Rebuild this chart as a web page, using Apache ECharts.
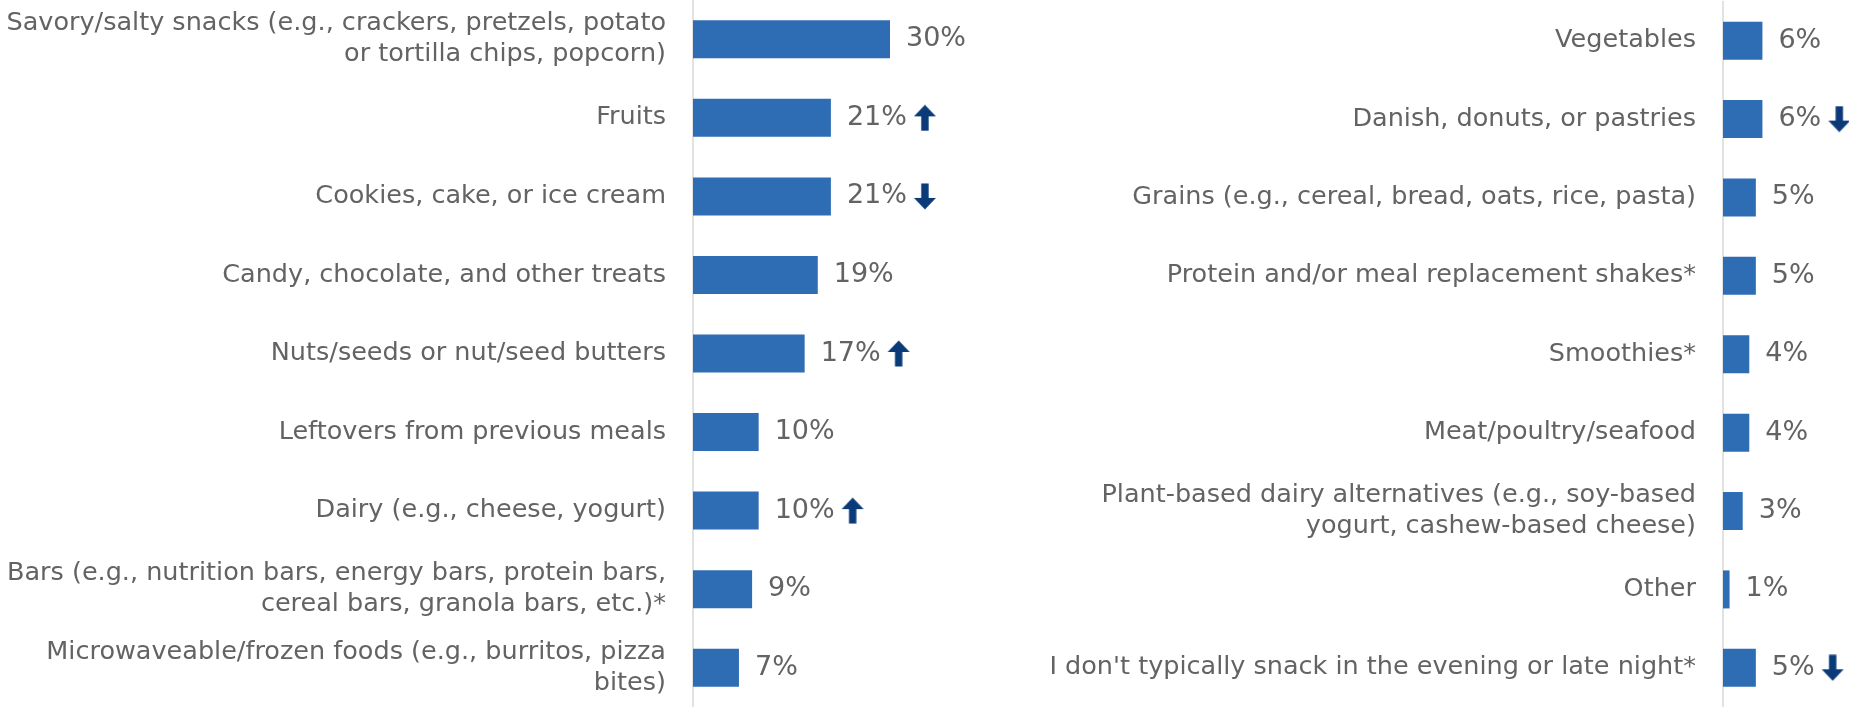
<!DOCTYPE html>
<html>
<head>
<meta charset="utf-8">
<title>Evening snacks</title>
<script src="https://cdn.jsdelivr.net/npm/echarts@6/dist/echarts.min.js"></script>
<style>
  html, body { margin: 0; padding: 0; background: #ffffff; }
  #chart { width: 1849px; height: 707px; }
</style>
</head>
<body>
<div id="chart"></div>
<script>
// Left column: top snack types
const leftCategories = [
  'Savory/salty snacks (e.g., crackers, pretzels, potato\nor tortilla chips, popcorn)',
  'Fruits',
  'Cookies, cake, or ice cream',
  'Candy, chocolate, and other treats',
  'Nuts/seeds or nut/seed butters',
  'Leftovers from previous meals',
  'Dairy (e.g., cheese, yogurt)',
  'Bars (e.g., nutrition bars, energy bars, protein bars,\ncereal bars, granola bars, etc.)*',
  'Microwaveable/frozen foods (e.g., burritos, pizza\nbites)'
];
const leftValues = [30, 21, 21, 19, 17, 10, 10, 9, 7];
const leftTrends = ['', 'up', 'down', '', 'up', '', 'up', '', ''];

// Right column: remaining snack types
const rightCategories = [
  'Vegetables',
  'Danish, donuts, or pastries',
  'Grains (e.g., cereal, bread, oats, rice, pasta)',
  'Protein and/or meal replacement shakes*',
  'Smoothies*',
  'Meat/poultry/seafood',
  'Plant-based dairy alternatives (e.g., soy-based\nyogurt, cashew-based cheese)',
  'Other',
  "I don't typically snack in the evening or late night*"
];
const rightValues = [6, 6, 5, 5, 4, 4, 3, 1, 5];
const rightTrends = ['', 'down', '', '', '', '', '', '', 'down'];

const FONT = "'DejaVu Sans', 'Open Sans', sans-serif";
const TEXT = '#636363';
const BAR = '#2E6DB4';
const ARROW = '#0A3A78';
const AXIS = '#D9D9D9';

// Small arrow glyphs drawn once on canvases, used as rich-text icons
function makeArrow(dir) {
  const c = document.createElement('canvas');
  c.width = 30; c.height = 27;
  const g = c.getContext('2d');
  g.fillStyle = ARROW;
  g.save();
  if (dir === 'down') { g.translate(0, 27); g.scale(1, -1); }
  g.beginPath();
  // head
  g.moveTo(7, 12);
  g.lineTo(18, 0.5);
  g.lineTo(29, 12);
  g.closePath();
  g.fill();
  // shaft
  g.fillRect(14.3, 11.5, 7.4, 15);
  g.restore();
  return c;
}
const upIcon = makeArrow('up');
const downIcon = makeArrow('down');

function valueLabel(trends) {
  return {
    show: true,
    position: 'right',
    distance: 16,
    formatter: function (p) {
      const t = trends[p.dataIndex];
      return '{v|' + p.value + '%}' + (t ? '{' + t + '|}' : '');
    },
    rich: {
      v: { fontFamily: FONT, fontSize: 27, fontWeight: 'normal', color: TEXT },
      up: { width: 30, height: 27, backgroundColor: { image: upIcon } },
      down: { width: 30, height: 27, backgroundColor: { image: downIcon } }
    }
  };
}

function categoryAxis(gridIndex, cats) {
  return {
    type: 'category',
    gridIndex: gridIndex,
    data: cats,
    inverse: true,
    axisTick: { show: false },
    axisLine: { show: true, lineStyle: { color: AXIS, width: 1.5 } },
    axisLabel: {
      margin: 27,
      fontFamily: FONT,
      fontSize: 25.5,
      fontWeight: 'normal',
      lineHeight: 31,
      color: TEXT
    }
  };
}

function valueAxis(gridIndex, max) {
  return {
    type: 'value',
    gridIndex: gridIndex,
    min: 0,
    max: max,
    show: false,
    splitLine: { show: false }
  };
}

const chart = echarts.init(document.getElementById('chart'), null, { renderer: 'canvas' });
chart.setOption({
  animation: false,
  backgroundColor: '#ffffff',
  grid: [
    { left: 693, top: -3, width: 197, height: 716 },
    { left: 1723, top: 1.5, width: 65.7, height: 710 }
  ],
  xAxis: [valueAxis(0, 30), valueAxis(1, 10)],
  yAxis: [categoryAxis(0, leftCategories), categoryAxis(1, rightCategories)],
  series: [
    {
      type: 'bar',
      xAxisIndex: 0,
      yAxisIndex: 0,
      data: leftValues,
      barWidth: 38,
      itemStyle: { color: BAR },
      label: valueLabel(leftTrends)
    },
    {
      type: 'bar',
      xAxisIndex: 1,
      yAxisIndex: 1,
      data: rightValues,
      barWidth: 38,
      itemStyle: { color: BAR },
      label: valueLabel(rightTrends)
    }
  ]
});
</script>
</body>
</html>
